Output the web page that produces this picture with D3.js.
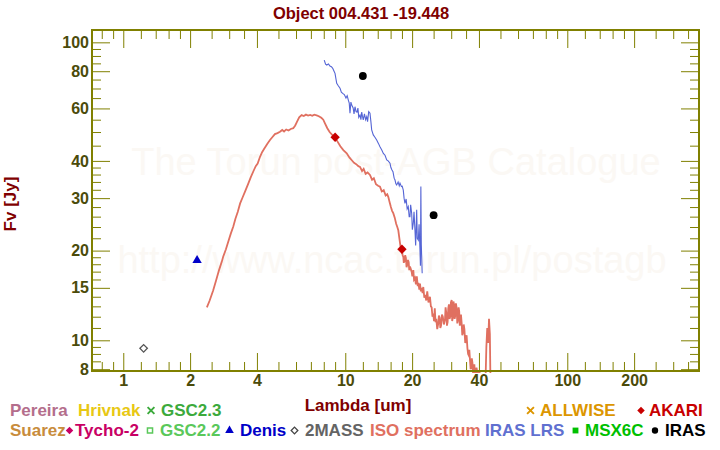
<!DOCTYPE html>
<html><head><meta charset="utf-8">
<script src="https://cdn.jsdelivr.net/npm/d3@7"></script>
<style>
body{margin:0;background:#fff;}
svg{display:block;font-family:"Liberation Sans",Arial,sans-serif;}
</style>
</head><body><svg id="c" width="720" height="450"></svg>
<script>
const title = "Object 004.431 -19.448";
const xLabel = "Lambda [um]";
const yLabel = "Fv [Jy]";
const watermark = ["The Torun post-AGB Catalogue", "http://www.ncac.torun.pl/postagb"];

const xMajorTicks = [1, 2, 4, 10, 20, 40, 100, 200];
const xMinorTicks = [0.8, 0.9, 1.2, 1.4, 1.6, 1.8, 2.5, 3, 3.5, 5, 6, 7, 8, 9, 12, 14, 16, 18, 25, 30, 35, 50, 60, 70, 80, 90, 120, 140, 160, 180, 250, 300, 350];
const yMajorTicks = [8, 10, 15, 20, 30, 40, 60, 80, 100];
const yMinorTicks = [8.5, 9, 9.5, 11, 12, 13, 14, 16, 17, 18, 19, 22, 24, 26, 28, 32, 34, 36, 38, 45, 50, 55, 65, 70, 75, 85, 90, 95, 110];

// ISO spectrum [wavelength um, flux Jy]
const isoSpectrum = [
[2.38,12.9],[2.45,13.6],[2.54,14.7],[2.62,15.9],[2.70,17.2],[2.78,18.4],[2.82,19.1],[2.90,20.2],[2.98,21.6],[3.05,22.8],
[3.13,24.1],[3.20,25.6],[3.28,27.0],[3.36,28.8],[3.45,30.2],[3.55,31.8],[3.66,33.6],[3.75,35.2],[3.86,37.0],[3.95,38.4],
[4.03,39.2],[4.13,41.3],[4.22,42.8],[4.32,44.0],[4.45,45.6],[4.58,47.0],[4.70,48.1],[4.82,49.2],[4.95,49.6],[5.08,50.1],
[5.20,50.8],[5.30,50.2],[5.42,51.0],[5.55,50.6],[5.68,51.2],[5.83,51.5],[5.95,52.6],[6.05,54.0],[6.20,56.0],[6.36,57.0],
[6.50,56.6],[6.65,57.2],[6.80,56.8],[6.95,57.1],[7.10,56.7],[7.25,57.2],[7.43,56.9],[7.60,56.5],[7.80,55.8],[7.96,55.0],
[8.10,53.5],[8.30,51.5],[8.50,50.0],[8.75,48.8],[8.99,48.0],[9.20,46.6],[9.50,44.8],[9.80,43.5],[10.15,42.4],[10.45,41.0],
[10.70,40.2],[10.95,39.4],[11.20,39.0],[11.45,38.4],[11.65,38.2],[11.90,37.0],[12.10,37.6],[12.35,36.2],[12.60,36.6],[12.92,35.9],
[13.20,34.6],[13.45,35.0],[13.75,33.4],[14.05,33.0],[14.33,32.8],[14.60,31.6],[14.90,31.9],[15.20,30.6],[15.45,30.9],[15.62,30.3],
[15.85,29.0],[16.05,28.0],[16.25,27.2],[16.45,26.7],[16.70,25.8],[16.95,24.6],[17.15,24.0],[17.33,23.4],[17.55,21.8],[17.80,20.2],
[18.00,19.9],[18.15,19.2],[18.25,19.1],[18.35,18.2],[18.50,18.6],[18.62,19.3],[18.75,18.9],[18.88,17.6],[19.00,17.9],[19.15,18.6],
[19.30,18.3],[19.42,17.2],[19.56,17.7],[19.70,17.4],[19.90,17.0],[20.05,16.4],[20.25,17.2],[20.40,16.0],[20.60,16.2],[20.80,15.4],
[21.00,16.4],[21.20,15.2],[21.35,15.6],[21.55,14.8],[21.70,15.5],[21.90,14.6],[22.10,15.0],[22.30,14.4],[22.46,15.1],[22.70,13.9],
[22.90,14.2],[23.15,13.6],[23.40,14.6],[23.70,13.4],[24.07,14.0],[24.30,13.0],[24.50,12.9],[24.70,12.0],[24.91,12.3],[25.10,11.6],
[25.30,12.8],[25.50,11.5],[25.70,11.8],[25.95,10.9],[26.24,11.4],[26.40,12.1],[26.60,11.9],[26.80,11.0],[27.00,11.2],[27.25,12.2],
[27.50,12.0],[27.80,11.3],[28.12,11.7],[28.30,12.9],[28.50,12.4],[28.70,11.2],[28.90,11.5],[29.10,12.8],[29.30,13.2],[29.50,11.8],
[29.70,12.0],[29.90,13.4],[30.15,13.65],[30.30,11.6],[30.50,11.9],[30.70,13.5],[30.90,13.2],[31.10,11.8],[31.30,12.1],[31.50,13.3],
[31.76,12.8],[31.95,11.4],[32.20,11.7],[32.40,12.9],[32.60,12.5],[32.80,11.2],[33.00,11.5],[33.20,12.2],[33.44,11.4],[33.65,10.4],
[33.90,10.6],[34.15,11.3],[34.40,10.9],[34.70,9.8],[34.98,10.0],[35.20,10.4],[35.50,9.4],[35.75,9.0],[36.00,8.9],[36.20,9.3],
[36.45,8.6],[36.70,8.0],[36.90,8.1],[37.15,8.7],[37.40,8.4],[37.65,7.7],[37.90,7.8],[38.15,8.3],[38.40,7.5],
[39.00,8.1],[39.60,7.6],[40.20,7.9],[40.80,7.0],[42.00,6.5],[42.80,7.2],[43.20,9.5],[43.60,11.0],[44.00,9.8],[44.40,11.8],
[44.80,10.5],[45.00,8.0],[45.30,6.5]
];

// IRAS LRS spectrum [wavelength um, flux Jy]
const lrsSpectrum = [
[8.04,87.2],[8.15,84.5],[8.25,83.9],[8.40,84.6],[8.53,83.3],[8.66,82.8],[8.78,81.8],[8.90,80.0],[8.99,78.7],[9.15,72.9],
[9.30,71.5],[9.47,70.1],[9.60,68.0],[9.73,67.4],[9.90,66.8],[10.07,65.0],[10.20,66.2],[10.32,64.0],[10.42,62.5],[10.50,57.8],
[10.60,63.0],[10.69,61.6],[10.85,60.2],[10.95,57.5],[11.06,60.8],[11.18,58.5],[11.29,58.3],[11.40,60.2],[11.50,56.0],[11.65,57.0],
[11.76,55.0],[11.86,58.3],[11.95,56.5],[12.05,54.9],[12.20,57.5],[12.35,55.0],[12.49,56.3],[12.60,54.2],[12.75,58.5],[12.92,57.8],
[13.05,54.0],[13.15,50.8],[13.37,48.9],[13.60,48.0],[13.85,47.0],[14.10,45.8],[14.33,44.6],[14.60,43.5],[14.84,42.4],[15.10,41.8],
[15.37,40.3],[15.60,40.0],[15.90,39.3],[16.05,38.0],[16.23,37.3],[16.40,36.8],[16.60,35.0],[16.75,34.5],[16.90,33.5],[17.04,33.2],
[17.30,34.0],[17.50,33.0],[17.64,33.7],[17.90,32.8],[18.05,32.9],[18.25,31.9],[18.40,30.0],[18.57,28.8],[18.80,29.8],[19.00,27.6],
[19.22,28.1],[19.40,26.0],[19.56,26.0],[19.70,28.5],[19.91,26.7],[20.05,23.5],[20.25,24.75],[20.40,27.0],[20.60,23.4],[20.75,20.8],
[20.97,27.4],[21.10,22.0],[21.33,21.7],[21.50,24.5],[21.70,20.1],[21.80,17.8],[21.90,32.8],[22.00,21.0],[22.20,16.8]
];

const denisPoints = [[2.15, 18.7]];
const twoMassPoints = [[1.235, 9.4]];
const irasPoints = [[12, 77.1], [25, 26.3]];
const akariPoints = [[9, 48.0], [18, 20.2]];

const legendNames = ["Pereira","Hrivnak","GSC2.3","ALLWISE","AKARI","Suarez","Tycho-2","GSC2.2","Denis","2MASS","ISO spectrum","IRAS LRS","MSX6C","IRAS"];
const legendColors = ["#b46e8c","#e8c814","#3caa3c","#dc9600","#c80000","#c88c3c","#c80064","#5ac85a","#0000c8","#646464","#e07060","#6070d0","#00c000","#000000"];
const legendMarkers = ["none","none","x","x","diamond","none","diamond","squareOpen","triangle","diamondOpen","none","none","square","circle"];

// ---- layout ----
const PL = 92, PR = 699, PT = 30, PB = 371;
const legendRow = [0,0,0,0,0,1,1,1,1,1,1,1,1,1];
const legendTextX = [10,78,161,540,649,10,75,160,240,305,370,485,585,665];
const legendMarkX = [0,0,151,530.5,641,0,69.5,150,229.5,294.5,0,0,575.5,655];
const rowBaseline = [416, 436];
const watermarkX = [396, 392], watermarkY = [175, 273];

const olive = "#808000", tickText = "#4b4b0a", darkRed = "#800000";
const isoColor = "#e07060", lrsColor = "#5565d5";

const svg = d3.select("#c");
const x = d3.scaleLog().domain([0.723, 392]).range([PL, PR]);
const y = d3.scaleLog().domain([7.888, 110]).range([PB, PT]);

// watermark
svg.append("g").selectAll("text").data(watermark).join("text")
  .attr("x", (d,i) => watermarkX[i]).attr("y", (d,i) => watermarkY[i])
  .attr("text-anchor", "middle").attr("font-size", 38).attr("fill", "#fbf8f4").text(d => d);

// clip
svg.append("clipPath").attr("id", "clip").append("rect")
  .attr("x", PL).attr("y", PT).attr("width", PR - PL).attr("height", PB - PT + 2);

const line = d3.line().x(d => x(d[0])).y(d => y(d[1]));
const plot = svg.append("g").attr("clip-path", "url(#clip)");
plot.append("path").datum(isoSpectrum).attr("d", line).attr("fill", "none")
  .attr("stroke", isoColor).attr("stroke-width", 1.8).attr("stroke-linejoin", "miter");
plot.append("path").datum(lrsSpectrum).attr("d", line).attr("fill", "none")
  .attr("stroke", lrsColor).attr("stroke-width", 1.1);

// axes ticks (inside)
function tickAxis(axisFn, scale, vals, size, transform) {
  const g = svg.append("g").attr("transform", transform)
    .call(axisFn(scale).tickValues(vals).tickSize(size).tickFormat(""));
  g.select(".domain").remove();
  g.selectAll("line").attr("stroke", olive).attr("stroke-width", 1);
  return g;
}
tickAxis(d3.axisBottom, x, xMajorTicks, -18, `translate(0,${PB})`);
tickAxis(d3.axisBottom, x, xMinorTicks, -9, `translate(0,${PB})`);
tickAxis(d3.axisTop, x, xMajorTicks, -18, `translate(0,${PT})`);
tickAxis(d3.axisTop, x, xMinorTicks, -9, `translate(0,${PT})`);
tickAxis(d3.axisLeft, y, yMajorTicks, -18, `translate(${PL},0)`);
tickAxis(d3.axisLeft, y, yMinorTicks, -9, `translate(${PL},0)`);
tickAxis(d3.axisRight, y, yMajorTicks, -18, `translate(${PR},0)`);
tickAxis(d3.axisRight, y, yMinorTicks, -9, `translate(${PR},0)`);

// frame
svg.append("rect").attr("x", PL).attr("y", PT).attr("width", PR - PL).attr("height", PB - PT)
  .attr("fill", "none").attr("stroke", olive).attr("stroke-width", 2);

// tick labels
const xl = svg.append("g").attr("transform", `translate(0,${PB})`)
  .call(d3.axisBottom(x).tickValues(xMajorTicks).tickSize(0).tickPadding(4).tickFormat(d3.format("d")));
xl.select(".domain").remove();
xl.selectAll("text").attr("font-size", 16).attr("font-weight", "bold").attr("fill", tickText)
  .attr("font-family", "Liberation Sans, Arial, sans-serif");
const yl = svg.append("g").attr("transform", `translate(${PL},0)`)
  .call(d3.axisLeft(y).tickValues(yMajorTicks).tickSize(0).tickPadding(3).tickFormat(d3.format("d")));
yl.select(".domain").remove();
yl.selectAll("text").attr("font-size", 16).attr("font-weight", "bold").attr("fill", tickText)
  .attr("font-family", "Liberation Sans, Arial, sans-serif");

// titles
svg.append("text").attr("x", 361).attr("y", 18.5).attr("text-anchor", "middle")
  .attr("font-size", 16.5).attr("font-weight", "bold").attr("fill", darkRed).text(title);
svg.append("text").attr("x", 358).attr("y", 411).attr("text-anchor", "middle")
  .attr("font-size", 17).attr("font-weight", "bold").attr("fill", darkRed).text(xLabel);
svg.append("text").attr("transform", "translate(16,204) rotate(-90)").attr("text-anchor", "middle")
  .attr("font-size", 17).attr("font-weight", "bold").attr("fill", darkRed).text(yLabel);

// photometry markers
svg.selectAll(".denis").data(denisPoints).join("path")
  .attr("transform", d => `translate(${x(d[0])},${y(d[1]) + 1})`)
  .attr("d", d3.symbol().type(d3.symbolTriangle).size(38)()).attr("fill", "#0000c8");
svg.selectAll(".tm").data(twoMassPoints).join("path")
  .attr("transform", d => `translate(${x(d[0])},${y(d[1])}) rotate(45)`)
  .attr("d", d3.symbol().type(d3.symbolSquare).size(28)()).attr("fill", "#fff").attr("stroke", "#555").attr("stroke-width", 1.3);
svg.selectAll(".iras").data(irasPoints).join("path")
  .attr("transform", d => `translate(${x(d[0])},${y(d[1])})`)
  .attr("d", d3.symbol().type(d3.symbolCircle).size(48)()).attr("fill", "#000");
svg.selectAll(".akari").data(akariPoints).join("path")
  .attr("transform", d => `translate(${x(d[0])},${y(d[1])}) rotate(45)`)
  .attr("d", d3.symbol().type(d3.symbolSquare).size(44)()).attr("fill", "#c80000");

// legend
const lg = svg.append("g");
legendNames.forEach((name, i) => {
  const by = rowBaseline[legendRow[i]];
  lg.append("text").attr("x", legendTextX[i]).attr("y", by)
    .attr("font-size", 17).attr("font-weight", "bold").attr("fill", legendColors[i]).text(name);
  const m = legendMarkers[i];
  if (m === "none") return;
  const mx = legendMarkX[i], my = by - 5.5;
  const c = legendColors[i];
  const p = lg.append("path");
  if (m === "x") {
    p.attr("transform", `translate(${mx},${my})`).attr("d", d3.symbol().type(d3.symbolX).size(32)())
      .attr("fill", "none").attr("stroke", c).attr("stroke-width", 1.9);
  } else if (m === "diamond") {
    p.attr("transform", `translate(${mx},${my}) rotate(45)`).attr("d", d3.symbol().type(d3.symbolSquare).size(28)()).attr("fill", c);
  } else if (m === "diamondOpen") {
    p.attr("transform", `translate(${mx},${my}) rotate(45)`).attr("d", d3.symbol().type(d3.symbolSquare).size(22)())
      .attr("fill", "#fff").attr("stroke", "#444").attr("stroke-width", 1.3);
  } else if (m === "squareOpen") {
    p.attr("transform", `translate(${mx},${my})`).attr("d", d3.symbol().type(d3.symbolSquare).size(26)())
      .attr("fill", "#fff").attr("stroke", c).attr("stroke-width", 1.5);
  } else if (m === "square") {
    p.attr("transform", `translate(${mx},${my})`).attr("d", d3.symbol().type(d3.symbolSquare).size(34)()).attr("fill", c);
  } else if (m === "triangle") {
    p.attr("transform", `translate(${mx},${my})`).attr("d", d3.symbol().type(d3.symbolTriangle).size(32)()).attr("fill", c);
  } else if (m === "circle") {
    p.attr("transform", `translate(${mx},${my})`).attr("d", d3.symbol().type(d3.symbolCircle).size(32)()).attr("fill", c);
  }
});
</script>
</body></html>
